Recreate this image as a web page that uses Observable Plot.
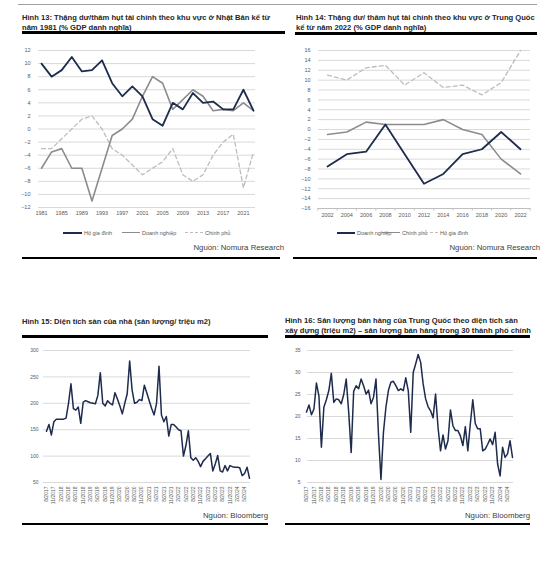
<!DOCTYPE html>
<html><head><meta charset="utf-8">
<script src="https://cdn.jsdelivr.net/npm/d3@7"></script>
<script src="https://cdn.jsdelivr.net/npm/@observablehq/plot@0.6"></script>
<style>
html,body{margin:0;padding:0;background:#fff;}
body{width:553px;height:586px;position:relative;overflow:hidden;font-family:"Liberation Sans",Arial,sans-serif;}
.abs{position:absolute;}
.title{position:absolute;font-weight:bold;font-size:7.6px;line-height:9.5px;color:#262626;white-space:nowrap;}
.rule{position:absolute;background:#000;}
.src{position:absolute;font-size:7.8px;color:#404040;white-space:nowrap;text-align:right;line-height:9px;}
.leg{position:absolute;font-size:5.5px;color:#595959;white-space:nowrap;line-height:6px;}
.sw{position:absolute;height:0;}
.chart{position:absolute;}
</style></head><body>
<div class="abs" style="left:18px;top:4px;width:519px;height:1px;background:#a0a0a0"></div>

<div class="title" style="left:22px;top:13px">Hình 13: Thặng dư/thâm hụt tài chính theo khu vực ở Nhật Bản kể từ<br>năm 1981 (% GDP danh nghĩa)</div>
<div class="rule" style="left:22px;top:31px;width:263px;height:3px"></div>
<div class="title" style="left:296px;top:13px">Hình 14: Thặng dư/ thâm hụt tài chính theo khu vực ở Trung Quốc<br>kể từ năm 2022 (% GDP danh nghĩa)</div>
<div class="rule" style="left:295px;top:32px;width:242px;height:3px"></div>

<div id="c13" class="chart" style="left:0px;top:40px"></div>
<div id="c14" class="chart" style="left:280px;top:40px"></div>

<div class="sw" style="left:63px;top:232px;width:19px;border-top:2px solid #1d2b4c"></div>
<div class="leg" style="left:84px;top:230px">Hộ gia đình</div>
<div class="sw" style="left:122px;top:232px;width:18px;border-top:1.5px solid #8c8c8c"></div>
<div class="leg" style="left:142px;top:230px">Doanh nghiệp</div>
<div class="sw" style="left:185px;top:232px;width:18px;border-top:1.2px dashed #bdbdbd"></div>
<div class="leg" style="left:205px;top:230px">Chính phủ</div>

<div class="sw" style="left:337px;top:232px;width:18px;border-top:2px solid #1d2b4c"></div>
<div class="leg" style="left:357px;top:230px">Doanh nghiệp</div>
<div class="sw" style="left:382px;top:232px;width:18px;border-top:1.5px solid #8c8c8c"></div>
<div class="leg" style="left:402px;top:230px">Chính phủ</div>
<div class="sw" style="left:420px;top:232px;width:18px;border-top:1.2px dashed #bdbdbd"></div>
<div class="leg" style="left:440px;top:230px">Hộ gia đình</div>

<div class="src" style="right:269px;top:243px">Nguồn: Nomura Research</div>
<div class="src" style="right:13px;top:243px">Nguồn: Nomura Research</div>
<div class="rule" style="left:22px;top:257px;width:258px;height:1.5px"></div>
<div class="rule" style="left:293px;top:257px;width:244px;height:1.5px"></div>

<div class="title" style="left:22px;top:317px">Hình 15: Diện tích sàn của nhà (sản lượng/ triệu m2)</div>
<div class="rule" style="left:22px;top:335px;width:246px;height:2.5px"></div>
<div class="title" style="left:285px;top:316px">Hình 16: Sản lượng bán hàng của Trung Quốc theo diện tích sàn<br>xây dựng (triệu m2) – sản lượng bán hàng trong 30 thành phố chính</div>
<div class="rule" style="left:285px;top:335px;width:245px;height:2.5px"></div>

<div id="c15" class="chart" style="left:0px;top:340px"></div>
<div id="c16" class="chart" style="left:285px;top:340px"></div>

<div class="src" style="right:285px;top:511px">Nguồn: Bloomberg</div>
<div class="src" style="right:23px;top:511px">Nguồn: Bloomberg</div>
<div class="rule" style="left:22px;top:523px;width:246px;height:1.5px"></div>
<div class="rule" style="left:285px;top:523px;width:245px;height:1.5px"></div>

<script>
// ---- Hình 13: Nhật Bản ----
const jpYears = [1981,1983,1985,1987,1989,1991,1993,1995,1997,1999,2001,2003,2005,2007,2009,2011,2013,2015,2017,2019,2021,2023];
const jpHousehold = [10,8,9,11,8.8,9,10.5,7,5,6.5,5,1.5,0.5,4,3,5.5,4,4.2,3,3,6,2.8];
const jpCorporate = [-6,-3.5,-3,-6,-6,-11,-6,-1,0,1.5,5,8,7,3,4.5,6,5,2.8,3,2.8,4,2.8];
const jpGovernment = [-3,-3,-1.5,0,1.5,2,0,-3,-4,-5.5,-7,-6,-5,-3,-7,-8,-7,-4,-2,-0.8,-9,-3.5];
const jpXTicks = [1981,1985,1989,1993,1997,2001,2005,2009,2013,2017,2021];
const jpYTicks = [-12,-10,-8,-6,-4,-2,0,2,4,6,8,10,12];

// ---- Hình 14: Trung Quốc ----
const cnYears = [2002,2004,2006,2008,2010,2012,2014,2016,2018,2020,2022];
const cnCorporate = [-7.5,-5,-4.5,1,-5,-11,-9,-5,-4,-0.5,-4];
const cnGovernment = [-1,-0.5,1.5,1,1,1,2,0,-1,-6,-9];
const cnHousehold = [11,10,12.5,13,9,11.5,8.5,9,7,9.5,16];
const cnYTicks = [-16,-14,-12,-10,-8,-6,-4,-2,0,2,4,6,8,10,12,14,16];
const cnMinorTicks = [2001,2003,2005,2007,2009,2011,2013,2015,2017,2019,2021,2023];

// ---- Hình 15 & 16: monthly, 8/2017 .. 7/2024 ----
const monthTicks = ["8/2017","11/2017","2/2018","5/2018","8/2018","11/2018","2/2019","5/2019","8/2019","11/2019","2/2020","5/2020","8/2020","11/2020","2/2021","5/2021","8/2021","11/2021","2/2022","5/2022","8/2022","11/2022","2/2023","5/2023","8/2023","11/2023","2/2024","5/2024"];
const floorSpace = [147,160,140,165,170,
  170,170,170,172,200,237,190,187,193,162,202,205,
  203,201,200,199,215,258,200,195,205,200,197,220,
  208,195,180,200,218,280,225,200,202,207,205,234,
  220,205,190,178,200,270,178,165,175,138,160,160,
  155,150,148,100,120,148,97,92,97,90,80,90,
  95,100,105,72,85,101,72,70,82,72,82,80,
  79,79,78,63,67,79,58];
const floorYTicks = [50,100,150,200,250,300];
const sales30 = [21,22.6,20.4,21.7,27.6,24.7,13,22.1,23.8,25.9,
  29.8,23.2,24,23.8,22.9,25,28.5,21,11.8,25.7,
  27,26.3,28.5,27,25.1,26,22.9,24.4,28.5,16,
  5.7,16.4,22.1,25.9,27.8,28,27,25.9,26.3,25.9,
  28.8,25.9,16.4,30,32,34.1,32.3,27.4,24,22.2,
  21.3,19.7,25.1,17.5,12.2,15.8,12.6,14.5,21.5,17.9,
  16.8,16.8,15.6,13.4,17.7,12.2,18.3,23.8,18.4,17.2,
  17.2,12.2,12.6,13.7,14.9,13.6,16.4,9.2,6.5,13,
  10.7,11.5,14.5,10.7];
const salesYTicks = [5,10,15,20,25,30,35];

const NAVY = "#1d2b4c", GRAY = "#8c8c8c", LIGHT = "#bdbdbd", GRID = "#d9d9d9";
const baseStyle = {fontFamily:"'Liberation Sans', Arial, sans-serif", fontSize:"5.5px", color:"#595959", background:"transparent", overflow:"visible"};
const pts = (xs, ys) => xs.map((x,i) => ({x, y: ys[i]}));

const c13 = Plot.plot({
  width:280, height:190, marginLeft:38, marginRight:25, marginTop:10, marginBottom:23,
  style: baseStyle,
  x:{domain:[1981,2023], range:[41,253], label:null},
  y:{domain:[-12,12], label:null},
  marks:[
    Plot.gridY(jpYTicks,{stroke:GRID, strokeOpacity:1}),
    Plot.axisY(jpYTicks,{tickSize:0, tickPadding:8, label:null}),
    Plot.axisX(jpXTicks,{tickSize:0, tickPadding:4, tickFormat:"d", label:null}),
    Plot.line(pts(jpYears, jpGovernment),{x:"x", y:"y", stroke:LIGHT, strokeWidth:1.3, strokeDasharray:"4,3"}),
    Plot.line(pts(jpYears, jpCorporate),{x:"x", y:"y", stroke:GRAY, strokeWidth:1.6}),
    Plot.line(pts(jpYears, jpHousehold),{x:"x", y:"y", stroke:NAVY, strokeWidth:1.8})
  ]
});
document.getElementById("c13").append(c13);

const c14 = Plot.plot({
  width:273, height:190, marginLeft:38, marginRight:23, marginTop:10, marginBottom:22,
  style: baseStyle,
  x:{domain:[2002,2022], range:[47,240], label:null},
  y:{domain:[-16,16], label:null},
  marks:[
    Plot.gridY(cnYTicks,{stroke:GRID, strokeOpacity:1}),
    Plot.ruleY([-16],{stroke:"#bfbfbf"}),
    Plot.axisX(cnMinorTicks,{tickSize:2.5, stroke:"#bfbfbf", strokeOpacity:1, tickFormat:()=>"", label:null}),
    Plot.axisY(cnYTicks,{tickSize:0, tickPadding:8, label:null}),
    Plot.axisX(cnYears,{tickSize:0, tickPadding:5, tickFormat:"d", label:null}),
    Plot.line(pts(cnYears, cnHousehold),{x:"x", y:"y", stroke:LIGHT, strokeWidth:1.3, strokeDasharray:"4,3"}),
    Plot.line(pts(cnYears, cnGovernment),{x:"x", y:"y", stroke:GRAY, strokeWidth:1.6}),
    Plot.line(pts(cnYears, cnCorporate),{x:"x", y:"y", stroke:NAVY, strokeWidth:1.8})
  ]
});
document.getElementById("c14").append(c14);

const idx = floorSpace.map((_,i)=>i);
const tickIdx = monthTicks.map((_,i)=>i*3);
const monthFmt = i => monthTicks[i/3];

const c15 = Plot.plot({
  width:280, height:180, marginLeft:43, marginRight:30, marginTop:10, marginBottom:38,
  style: {...baseStyle, fontSize:"5px"},
  x:{domain:[0, floorSpace.length-1], range:[46,249], label:null},
  y:{domain:[50,300], label:null},
  marks:[
    Plot.gridY(floorYTicks,{stroke:GRID, strokeOpacity:1}),
    Plot.axisY(floorYTicks,{tickSize:0, tickPadding:5, label:null}),
    Plot.axisX(tickIdx,{tickSize:0, tickPadding:4, tickRotate:-90, tickFormat:monthFmt, label:null}),
    Plot.line(pts(idx, floorSpace),{x:"x", y:"y", stroke:NAVY, strokeWidth:1.5})
  ]
});
document.getElementById("c15").append(c15);

const idx2 = sales30.map((_,i)=>i);
const c16 = Plot.plot({
  width:245, height:180, marginLeft:22, marginRight:17, marginTop:10, marginBottom:38,
  style: {...baseStyle, fontSize:"5px"},
  x:{domain:[0, sales30.length-1], range:[21,227], label:null},
  y:{domain:[5,35], label:null},
  marks:[
    Plot.gridY(salesYTicks,{stroke:GRID, strokeOpacity:1}),
    Plot.axisY(salesYTicks,{tickSize:0, tickPadding:7, label:null}),
    Plot.axisX(tickIdx,{tickSize:0, tickPadding:4, tickRotate:-90, tickFormat:monthFmt, label:null}),
    Plot.line(pts(idx2, sales30),{x:"x", y:"y", stroke:NAVY, strokeWidth:1.5})
  ]
});
document.getElementById("c16").append(c16);
</script>
</body></html>
